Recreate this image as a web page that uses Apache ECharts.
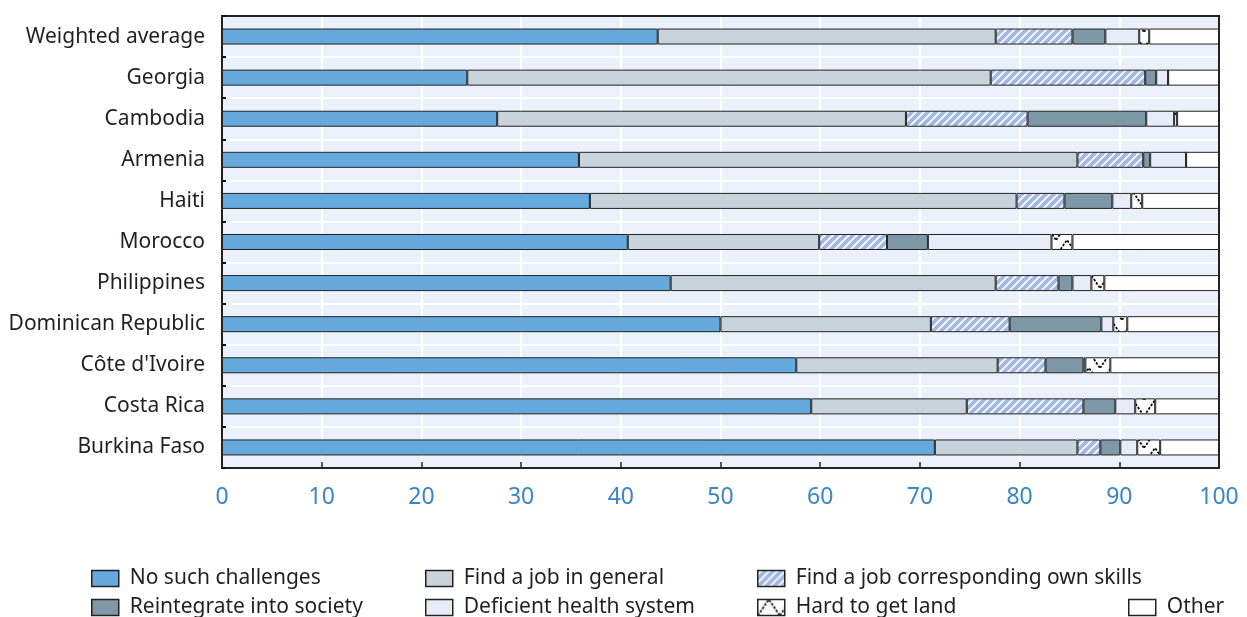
<!DOCTYPE html>
<html>
<head>
<meta charset="utf-8">
<script src="https://cdn.jsdelivr.net/npm/echarts@6/dist/echarts.min.js"></script>
<style>
html,body{margin:0;padding:0;background:#fff;}
#chart{width:1247px;height:617px;}
</style>
</head>
<body>
<div id="chart"></div>
<script>
const categories = ['Weighted average','Georgia','Cambodia','Armenia','Haiti','Morocco','Philippines','Dominican Republic',"Côte d'Ivoire",'Costa Rica','Burkina Faso'];
const xTicks = [0,10,20,30,40,50,60,70,80,90,100];
const noChallenges = [43.7, 24.6, 27.6, 35.8, 36.9, 40.7, 45.0, 50.0, 57.6, 59.1, 71.5];
const findJob      = [33.9, 52.5, 41.0, 50.0, 42.8, 19.2, 32.6, 21.1, 20.2, 15.6, 14.3];
const jobSkills    = [7.7, 15.5, 12.2, 6.6, 4.8, 6.8, 6.3, 7.9, 4.8, 11.7, 2.3];
const reintegrate  = [3.3, 1.1, 11.9, 0.7, 4.8, 4.1, 1.4, 9.2, 3.8, 3.2, 2.0];
const health       = [3.4, 1.2, 2.8, 3.6, 1.9, 12.4, 1.9, 1.2, 0.2, 2.0, 1.7];
const land         = [1.0, 0, 0.3, 0, 1.1, 2.1, 1.3, 1.4, 2.5, 2.0, 2.3];
const other        = [7.0, 5.1, 4.2, 3.3, 7.7, 14.7, 11.5, 9.2, 10.9, 6.4, 5.9];

function stripePattern(){
  const s = 8;
  const c = document.createElement('canvas'); c.width = s; c.height = s;
  const g = c.getContext('2d');
  g.fillStyle = '#ffffff'; g.fillRect(0,0,s,s);
  g.strokeStyle = '#a3b7e3'; g.lineWidth = 4;
  [[-s,s,s,-s],[0,2*s,2*s,0],[-s,2*s,2*s,-s]].forEach(l=>{g.beginPath();g.moveTo(l[0],l[1]);g.lineTo(l[2],l[3]);g.stroke();});
  return c;
}
function landPattern(){
  const c = document.createElement('canvas'); c.width = 22; c.height = 16;
  const g = c.getContext('2d');
  g.fillStyle = '#ffffff'; g.fillRect(0,0,22,16);
  g.strokeStyle = '#111'; g.lineWidth = 1.8; g.setLineDash([2.5,1.5]);
  g.beginPath(); g.moveTo(0,16); g.lineTo(11,0); g.lineTo(22,16); g.stroke();
  return c;
}
const stripe = {image: stripePattern(), repeat: 'repeat'};
const landFill = {image: landPattern(), repeat: 'repeat'};

const names = ['No such challenges','Find a job in general','Find a job corresponding own skills','Reintegrate into society','Deficient health system','Hard to get land','Other'];
const dataSets = [noChallenges, findJob, jobSkills, reintegrate, health, land, other];
const fills = ['#66aadd','#c8d3dc',stripe,'#7f98a8','#e8ecf8',landFill,'#ffffff'];

const chart = echarts.init(document.getElementById('chart'), null, {renderer:'canvas'});
const fontFam = '"Noto Sans", "Open Sans", sans-serif';
function legendAt(name, left, top){
  return {
    left: left, top: top, data: [name],
    itemWidth: 27, itemHeight: 16, selectedMode: false, icon: 'rect',
    itemStyle: {borderColor: '#222', borderWidth: 1.5},
    textStyle: {fontSize: 21, color: '#231f20', fontFamily: fontFam, lineHeight: 21, padding: [0,0,0,6]}
  };
}
const edgeAxis = {
  axisLine: {show: true, onZero: false, lineStyle: {color: '#222', width: 2}},
  axisTick: {show: false}, axisLabel: {show: false}, splitLine: {show: false}
};
chart.setOption({
  animation: false,
  grid: {left: 222, right: 28, top: 16, bottom: 149, show: true, backgroundColor: '#eaf1fa', borderColor: '#222', borderWidth: 2, containLabel: false},
  legend: [
    legendAt(names[0], 86, 563),
    legendAt(names[3], 86, 592),
    legendAt(names[1], 420, 563),
    legendAt(names[4], 420, 592),
    legendAt(names[2], 752, 563),
    legendAt(names[5], 752, 592),
    legendAt(names[6], 1123, 592)
  ],
  xAxis: [{
    type: 'value', min: 0, max: 100, interval: 10, position: 'bottom',
    axisLine: {show: true, onZero: false, lineStyle: {color: '#222', width: 2}},
    axisTick: {show: true, inside: true, length: 6, lineStyle: {color: '#222', width: 1.5}},
    splitLine: {show: true, lineStyle: {color: '#ffffff', width: 2}},
    axisLabel: {color: '#3a85c6', fontSize: 23, margin: 18, fontFamily: fontFam,
      formatter: v => xTicks.indexOf(v) >= 0 ? String(v) : ''}
  }, Object.assign({type: 'value', min: 0, max: 100, interval: 10, position: 'top'}, edgeAxis)],
  yAxis: [{
    type: 'category', data: categories, inverse: true, position: 'left',
    axisLine: {show: true, onZero: false, lineStyle: {color: '#222', width: 2}},
    axisTick: {show: true, inside: true, length: 4, interval: 0, lineStyle: {color: '#111', width: 2}},
    splitLine: {show: true, interval: 0, lineStyle: {color: '#ffffff', width: 2}},
    axisLabel: {color: '#231f20', fontSize: 21, margin: 17, fontFamily: fontFam, interval: 0}
  }, Object.assign({type: 'category', data: categories, inverse: true, position: 'right'}, edgeAxis)],
  series: names.map((n, i) => ({
    name: n, type: 'bar', stack: 'total', barWidth: 16,
    xAxisIndex: 0, yAxisIndex: 0,
    data: dataSets[i],
    itemStyle: {color: fills[i], borderColor: '#222', borderWidth: 1},
    emphasis: {disabled: true}
  }))
});
</script>
</body>
</html>
